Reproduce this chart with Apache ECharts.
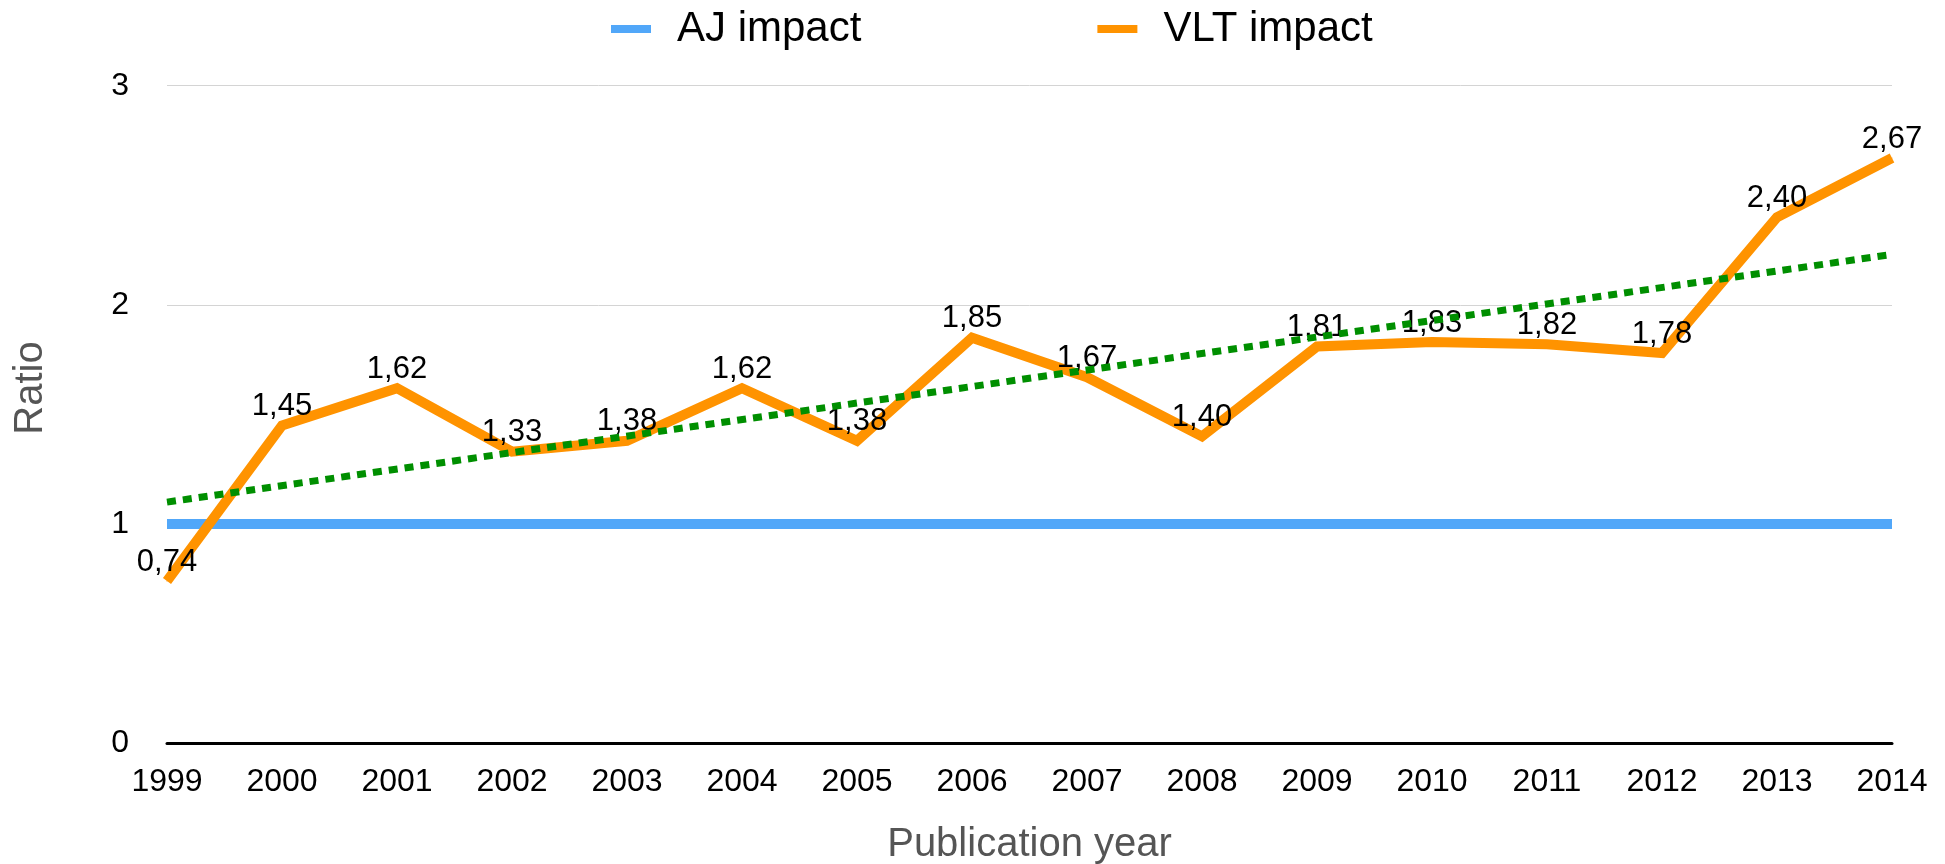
<!DOCTYPE html>
<html>
<head>
<meta charset="utf-8">
<title>VLT impact ratio</title>
<script src="https://cdn.jsdelivr.net/npm/echarts@6/dist/echarts.min.js"></script>
<style>
  html, body { margin: 0; padding: 0; background: #ffffff; }
  #chart { width: 1945px; height: 864px; }
</style>
</head>
<body>
<div id="chart"></div>
<script>
// Publication years on the horizontal axis
const years = ['1999', '2000', '2001', '2002', '2003', '2004', '2005', '2006',
               '2007', '2008', '2009', '2010', '2011', '2012', '2013', '2014'];

// AJ impact is the reference level
const ajImpact = [1, 1, 1, 1, 1, 1, 1, 1, 1, 1, 1, 1, 1, 1, 1, 1];

// VLT impact relative to AJ
const vltImpact = [0.74, 1.45, 1.62, 1.33, 1.38, 1.62, 1.38, 1.85,
                   1.67, 1.40, 1.81, 1.83, 1.82, 1.78, 2.40, 2.67];

// Linear trend of the VLT impact: value at first and last year
const trendYears = ['1999', '2014'];
const trendValues = [1.10, 2.23];

// Value axis ticks
const yTicks = [0, 1, 2, 3];

const FONT = '"Liberation Sans", "Helvetica Neue", Helvetica, Arial, sans-serif';
const BLUE = '#51a7f9';
const ORANGE = '#ff9300';
const GREEN = '#008f00';

const chart = echarts.init(document.getElementById('chart'), null, { renderer: 'canvas' });

const fmt = v => Number(v).toFixed(2).replace('.', ',');

chart.setOption({
  animation: false,
  backgroundColor: '#ffffff',
  textStyle: { fontFamily: FONT },
  legend: {
    left: 606,
    top: 3,
    itemWidth: 40,
    itemHeight: 8,
    itemGap: 236,
    icon: 'rect',
    selectedMode: false,
    data: [
      { name: 'AJ impact', itemStyle: { color: BLUE } },
      { name: 'VLT impact', itemStyle: { color: ORANGE } }
    ],
    textStyle: { fontSize: 42, color: '#000000', fontFamily: FONT, padding: [0, 0, 0, 21] }
  },
  grid: {
    left: 167, right: 53, top: 85.7, bottom: 120.8,
    containLabel: false,
    outerBoundsMode: 'none'
  },
  xAxis: {
    type: 'category',
    data: years,
    boundaryGap: false,
    name: 'Publication year',
    nameLocation: 'middle',
    nameGap: 82,
    nameTextStyle: { fontSize: 40, color: '#555555', fontFamily: FONT },
    axisLine: { show: true, lineStyle: { color: '#000000', width: 3 } },
    axisTick: { show: false },
    axisLabel: { fontSize: 32, color: '#000000', margin: 23, fontFamily: FONT },
    splitLine: { show: false }
  },
  yAxis: {
    type: 'value',
    min: yTicks[0],
    max: yTicks[yTicks.length - 1],
    interval: 1,
    axisLine: { show: false },
    axisTick: { show: false },
    axisLabel: { fontSize: 32, color: '#000000', margin: 38, fontFamily: FONT, padding: [5, 0, 0, 0] },
    splitLine: { show: true, lineStyle: { color: '#d4d4d4', width: 1 } }
  },
  graphic: [{
    type: 'text',
    x: 31,
    y: 388,
    rotation: Math.PI / 2,
    style: {
      text: 'Ratio',
      fontSize: 40,
      fontFamily: FONT,
      fill: '#555555',
      align: 'center',
      verticalAlign: 'middle'
    }
  }],
  series: [
    {
      name: 'AJ impact',
      type: 'line',
      data: ajImpact,
      z: 2,
      symbol: 'none',
      lineStyle: { color: BLUE, width: 10, cap: 'butt' },
      itemStyle: { color: BLUE }
    },
    {
      name: 'VLT impact',
      type: 'line',
      data: vltImpact,
      z: 3,
      symbol: 'circle',
      symbolSize: 1,
      showSymbol: true,
      lineStyle: { color: ORANGE, width: 10, join: 'miter', cap: 'butt' },
      itemStyle: { color: ORANGE },
      label: {
        show: true,
        position: 'top',
        distance: 3,
        fontSize: 31,
        color: '#000000',
        fontFamily: FONT,
        formatter: p => fmt(p.value)
      }
    },
    {
      name: 'Trend',
      type: 'line',
      data: years.map(y => {
        const i = trendYears.indexOf(y);
        return i >= 0 ? trendValues[i] : null;
      }),
      connectNulls: true,
      z: 4,
      symbol: 'none',
      lineStyle: { color: GREEN, width: 7, type: [9, 7], cap: 'butt' }
    }
  ]
});
</script>
</body>
</html>
